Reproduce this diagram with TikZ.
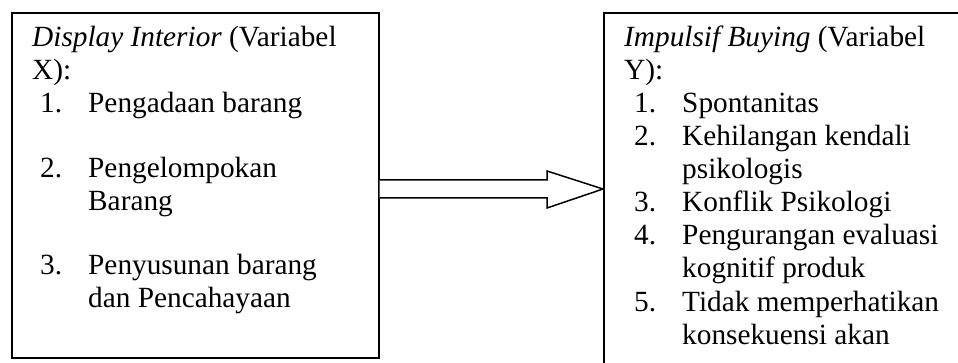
\documentclass[tikz,border=0pt]{standalone}
\usepackage{fontspec}
\setmainfont{Liberation Serif}
\begin{document}
\begin{tikzpicture}[x=1pt,y=-1pt,
  frame/.style={draw=black, line width=1.6pt},
  txt/.style={anchor=base west, inner sep=0pt, font=\fontsize{29.3}{33}\selectfont},
  bigarrow/.style={draw=black, line width=1.5pt, line join=miter, fill=white}]
  \useasboundingbox (0,0) rectangle (958,363);
  \clip (0,0) rectangle (958,363);

  % independent variable box
  \node[frame, rectangle, anchor=north west, minimum width=367pt, minimum height=345pt, inner sep=0pt]
    (xbox) at (11,12) {};
  % dependent variable box (runs past the page edge)
  \node[frame, rectangle, anchor=north west, minimum width=400pt, minimum height=400pt, inner sep=0pt]
    (ybox) at (603,12) {};

  % block arrow from X to Y
  \draw[bigarrow] (xbox.east |- 0,180) -- (547,180) -- (547,171) -- (ybox.west |- 0,189)
    -- (547,208) -- (547,198) -- (xbox.east |- 0,198);

  % text of the X box
  \node[txt] (x0)  at (32,47)  {\textit{Display Interior} (Variabel};
  \node[txt] (x0b) at (32,80)  {X):};
  \node[txt] (x1n) at (40,113) {1.};
  \node[txt] (x1)  at (88,113) {Pengadaan barang};
  \node[txt] (x2n) at (40,178) {2.};
  \node[txt] (x2)  at (88,178) {Pengelompokan};
  \node[txt] (x2b) at (88,211) {Barang};
  \node[txt] (x3n) at (40,275) {3.};
  \node[txt] (x3)  at (88,275) {Penyusunan barang};
  \node[txt] (x3b) at (88,308) {dan Pencahayaan};

  % text of the Y box
  \node[txt] (y0)  at (624,47)  {\textit{Impulsif Buying} (Variabel};
  \node[txt] (y0b) at (624,80)  {Y):};
  \node[txt] (y1n) at (634,113) {1.};
  \node[txt] (y1)  at (682,113) {Spontanitas};
  \node[txt] (y2n) at (634,146) {2.};
  \node[txt] (y2)  at (682,146) {Kehilangan kendali};
  \node[txt] (y2b) at (682,179) {psikologis};
  \node[txt] (y3n) at (634,212) {3.};
  \node[txt] (y3)  at (682,212) {Konflik Psikologi};
  \node[txt] (y4n) at (634,245) {4.};
  \node[txt] (y4)  at (682,245) {Pengurangan evaluasi};
  \node[txt] (y4b) at (682,278) {kognitif produk};
  \node[txt] (y5n) at (634,311) {5.};
  \node[txt] (y5)  at (682,311) {Tidak memperhatikan};
  \node[txt] (y5b) at (682,344) {konsekuensi akan};
\end{tikzpicture}
\end{document}
